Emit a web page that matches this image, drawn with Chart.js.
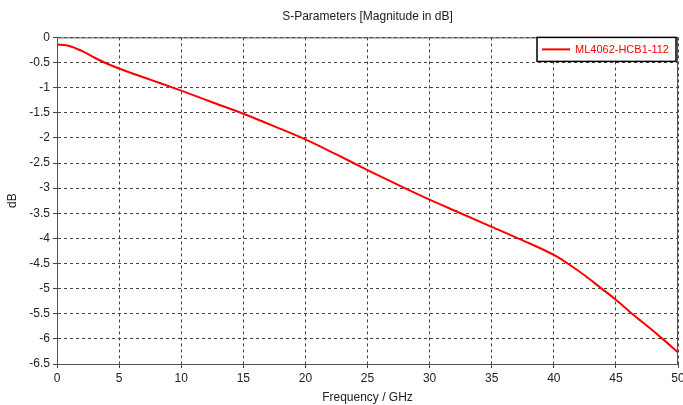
<!DOCTYPE html>
<html>
<head>
<meta charset="utf-8">
<script src="https://cdn.jsdelivr.net/npm/chart.js@4.4.1/dist/chart.umd.min.js"></script>
<style>
  html, body { margin: 0; padding: 0; background: #fff; }
  #wrap { width: 683px; height: 405px; }
</style>
</head>
<body>
<div id="wrap"><canvas id="sparam"></canvas></div>
<script>
// frequency (GHz) and S-parameter magnitude (dB)
const freqGHz = [0, 1, 2, 3, 4, 5, 7.5, 10, 12.5, 15, 17.5, 20, 22.5, 25, 27.5, 30, 32.5, 35, 37.5, 40, 41.3, 42.5, 43.7, 45, 46.4, 47.7, 48.8, 50];
const magDb   = [-0.14, -0.17, -0.27, -0.4, -0.52, -0.62, -0.84, -1.06, -1.29, -1.52, -1.77, -2.03, -2.33, -2.64, -2.94, -3.23, -3.5, -3.77, -4.04, -4.33, -4.53, -4.74, -4.97, -5.22, -5.52, -5.78, -6.01, -6.27];
const seriesName = 'ML4062-HCB1-112';
const yTicks = [0, -0.5, -1, -1.5, -2, -2.5, -3, -3.5, -4, -4.5, -5, -5.5, -6, -6.5];

const FONT = 'Liberation Sans';

// frame around the plot + legend box in the top right corner
const frameAndLegend = {
    id: 'frameAndLegend',
    afterDatasetsDraw(chart) {
        const { ctx, chartArea: a } = chart;
        ctx.save();
        ctx.strokeStyle = '#555';
        ctx.lineWidth = 1;
        ctx.strokeRect(a.left + 0.5, a.top + 0.5, a.right - a.left - 1, a.bottom - a.top);

        // legend
        const w = 139, h = 24;
        const x = a.right - w - 2, y = a.top;
        ctx.fillStyle = '#fff';
        ctx.fillRect(x, y, w, h);
        ctx.strokeStyle = '#000';
        ctx.lineWidth = 1.5;
        ctx.strokeRect(x, y, w, h);
        ctx.strokeStyle = '#ff0000';
        ctx.lineWidth = 2;
        ctx.beginPath();
        ctx.moveTo(x + 5, y + h / 2);
        ctx.lineTo(x + 33, y + h / 2);
        ctx.stroke();
        ctx.fillStyle = '#ff0000';
        ctx.font = '11px "' + FONT + '"';
        ctx.textBaseline = 'middle';
        ctx.fillText(seriesName, x + 38, y + h / 2 + 1);
        ctx.restore();
    }
};

new Chart(document.getElementById('sparam'), {
    type: 'line',
    data: {
        labels: freqGHz,
        datasets: [{
            label: seriesName,
            data: freqGHz.map((f, i) => ({ x: f, y: magDb[i] })),
            borderColor: '#ff0000',
            borderWidth: 2,
            pointRadius: 0,
            cubicInterpolationMode: 'monotone',
            fill: false
        }]
    },
    options: {
        responsive: true,
        maintainAspectRatio: false,
        animation: false,
        layout: { padding: { left: 0, right: 5, top: 0, bottom: 0 } },
        plugins: {
            legend: { display: false },
            tooltip: { enabled: false },
            title: {
                display: true,
                fullSize: false,
                text: 'S-Parameters [Magnitude in dB]',
                color: '#222',
                font: { family: FONT, size: 12, weight: 'normal' },
                padding: { top: 9, bottom: 14 }
            }
        },
        scales: {
            x: {
                type: 'linear',
                min: 0,
                max: 50,
                ticks: {
                    stepSize: 5,
                    color: '#222',
                    font: { family: FONT, size: 12 },
                    padding: 3,
                    maxRotation: 0
                },
                grid: { color: '#444', lineWidth: 1, tickLength: 4, tickColor: '#444', tickBorderDash: [] },
                border: { display: true, color: '#555', width: 1, dash: [3, 3] },
                title: {
                    display: true,
                    text: 'Frequency / GHz',
                    color: '#222',
                    font: { family: FONT, size: 12 },
                    padding: { top: 2, bottom: 0 }
                },
                afterFit(scale) {
                    scale.height = 41;
                    scale.paddingRight = 0;
                }
            },
            y: {
                min: -6.5,
                max: 0,
                afterBuildTicks(scale) { scale.ticks = yTicks.map(v => ({ value: v })); },
                ticks: {
                    color: '#222',
                    font: { family: FONT, size: 12 },
                    padding: 3,
                    callback: v => String(v)
                },
                grid: { color: '#444', lineWidth: 1, tickLength: 4, tickColor: '#444', tickBorderDash: [] },
                border: { display: true, color: '#555', width: 1, dash: [3, 3] },
                title: {
                    display: true,
                    text: 'dB',
                    color: '#222',
                    font: { family: FONT, size: 12 },
                    padding: { top: 5, bottom: 0 }
                },
                afterFit(scale) { scale.width = 57; }
            }
        }
    },
    plugins: [frameAndLegend]
});
</script>
</body>
</html>
